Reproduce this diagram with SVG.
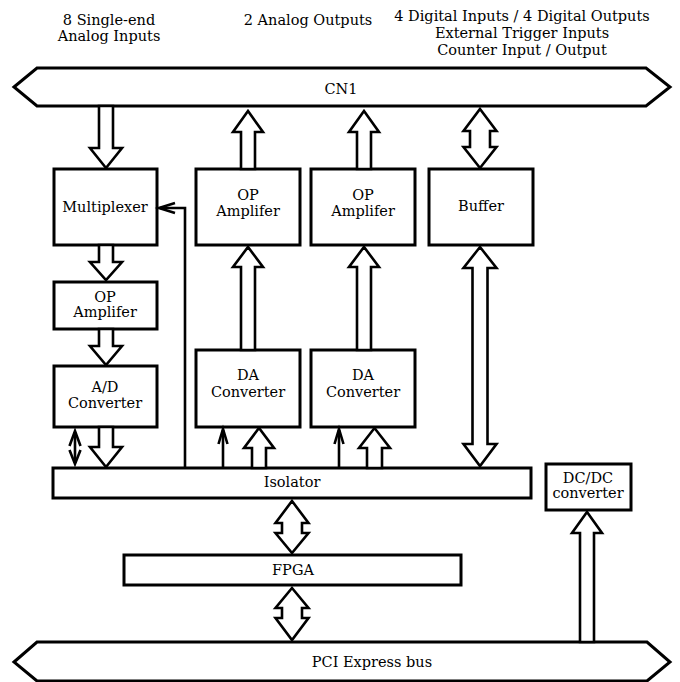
<svg xmlns="http://www.w3.org/2000/svg" width="680" height="682" viewBox="0 0 680 682">
<style>
  .box { fill: #fff; stroke: #000; stroke-width: 3; }
  .bus { fill: #fff; stroke: #000; stroke-width: 3; stroke-linejoin: miter; }
  .ha { fill: #fff; stroke: #000; stroke-width: 2.6; stroke-linejoin: miter; }
  .ln { fill: none; stroke: #000; stroke-width: 2.6; }
  .hd { fill: none; stroke: #000; stroke-width: 2.6; stroke-linejoin: miter; }
  text { font-family: "DejaVu Serif", "Liberation Serif", serif; font-size: 14.5px; fill: #000; text-anchor: middle; }
</style>
<rect width="680" height="682" fill="#fff"/>

<g id="labels">
  <text x="109" y="24.5">8 Single-end</text>
  <text x="109" y="41">Analog Inputs</text>
  <text x="308" y="24.5">2 Analog Outputs</text>
  <text x="522" y="21">4 Digital Inputs / 4 Digital Outputs</text>
  <text x="522" y="38">External Trigger Inputs</text>
  <text x="522" y="55">Counter Input / Output</text>
</g>

<g id="cn1">
  <polygon class="bus" points="14,87 37,68 646,68 670,87 646,106 37,106"/>
  <text x="341" y="94">CN1</text>
</g>

<g id="pci">
  <polygon class="bus" points="14,662 37,642 647,642 670,662 647,681 37,681"/>
  <text x="372" y="667">PCI Express bus</text>
</g>

<g id="multiplexer">
  <rect class="box" x="54" y="169" width="103" height="76"/>
  <text x="105" y="212">Multiplexer</text>
</g>
<g id="opamp1">
  <rect class="box" x="196" y="169" width="104" height="76"/>
  <text x="248" y="200">OP</text>
  <text x="248" y="216">Amplifer</text>
</g>
<g id="opamp2">
  <rect class="box" x="311" y="169" width="104" height="76"/>
  <text x="363" y="200">OP</text>
  <text x="363" y="216">Amplifer</text>
</g>
<g id="buffer">
  <rect class="box" x="429" y="169" width="104" height="76"/>
  <text x="481" y="211">Buffer</text>
</g>
<g id="opamp-in">
  <rect class="box" x="54" y="282" width="103" height="47"/>
  <text x="105" y="302">OP</text>
  <text x="105" y="317">Amplifer</text>
</g>
<g id="ad">
  <rect class="box" x="54" y="366" width="103" height="61"/>
  <text x="105" y="392">A/D</text>
  <text x="105" y="408">Converter</text>
</g>
<g id="da1">
  <rect class="box" x="196" y="350" width="104" height="77"/>
  <text x="248" y="380">DA</text>
  <text x="248" y="397">Converter</text>
</g>
<g id="da2">
  <rect class="box" x="311" y="350" width="104" height="77"/>
  <text x="363" y="380">DA</text>
  <text x="363" y="397">Converter</text>
</g>
<g id="isolator">
  <rect class="box" x="53" y="468" width="478" height="30"/>
  <text x="292" y="487">Isolator</text>
</g>
<g id="dcdc">
  <rect class="box" x="546" y="464" width="85" height="46"/>
  <text x="588" y="483">DC/DC</text>
  <text x="588" y="498">converter</text>
</g>
<g id="fpga">
  <rect class="box" x="124" y="555" width="337" height="30"/>
  <text x="293" y="575">FPGA</text>
</g>

<g id="connectors">
  <!-- hollow down arrows, left column -->
  <polygon class="ha" points="99,106 113,106 113,148 122,148 106,168 90,148 99,148"/>
  <polygon class="ha" points="99,245 113,245 113,262 122,262 106,280 90,262 99,262"/>
  <polygon class="ha" points="99,329 113,329 113,346 122,346 106,365 90,346 99,346"/>
  <polygon class="ha" points="99,427 113,427 113,447 122,447 106,467 90,447 99,447"/>

  <!-- hollow up arrows to CN1 -->
  <polygon class="ha" points="241,169 255,169 255,132 263,132 248,111 233,132 241,132"/>
  <polygon class="ha" points="357,169 371,169 371,132 379,132 364,111 349,132 357,132"/>

  <!-- DA -> OP amp -->
  <polygon class="ha" points="241,350 255,350 255,267 263,267 248,247 233,267 241,267"/>
  <polygon class="ha" points="357,350 371,350 371,267 379,267 364,247 349,267 357,267"/>

  <!-- Isolator -> DA hollow -->
  <polygon class="ha" points="252,468 266,468 266,448 274,448 259,428 244,448 252,448"/>
  <polygon class="ha" points="367,468 382,468 382,448 390,448 374.5,428 359,448 367,448"/>

  <!-- PCI -> DC/DC -->
  <polygon class="ha" points="580,642 594,642 594,533 602,533 587,512 572,533 580,533"/>

  <!-- short double arrows -->
  <polygon class="ha" points="480,109 496.5,131 490,131 490,147 496.5,147 480,168 463.5,147 470,147 470,131 463.5,131"/>
  <polygon class="ha" points="292,501 308.5,523 302,523 302,533 308.5,533 292,553 275.5,533 282,533 282,523 275.5,523"/>
  <polygon class="ha" points="292,588 308.5,608 302,608 302,618 308.5,618 292,640 275.5,618 282,618 282,608 275.5,608"/>

  <!-- long double arrow Buffer <-> Isolator -->
  <polygon class="ha" points="480,247 496.5,268 487.5,268 487.5,444 496.5,444 480,466 463.5,444 472.5,444 472.5,268 463.5,268"/>

  <!-- Isolator -> Multiplexer control line -->
  <path class="ln" d="M185,468 V208 H160"/>
  <polyline class="hd" points="175,203 159,208 175,213"/>

  <!-- Isolator -> DA thin arrows -->
  <line class="ln" x1="223" y1="468" x2="223" y2="430"/>
  <polyline class="hd" points="218.5,444 223,429 227.5,444"/>
  <line class="ln" x1="339" y1="468" x2="339" y2="430"/>
  <polyline class="hd" points="334.5,444 339,429 343.5,444"/>

  <!-- A/D <-> Isolator small double arrow -->
  <line class="ln" x1="75" y1="432" x2="75" y2="463"/>
  <polyline class="hd" points="69.5,446 75,431 80.5,446"/>
  <polyline class="hd" points="69.5,450 75,464 80.5,450"/>
</g>
</svg>
